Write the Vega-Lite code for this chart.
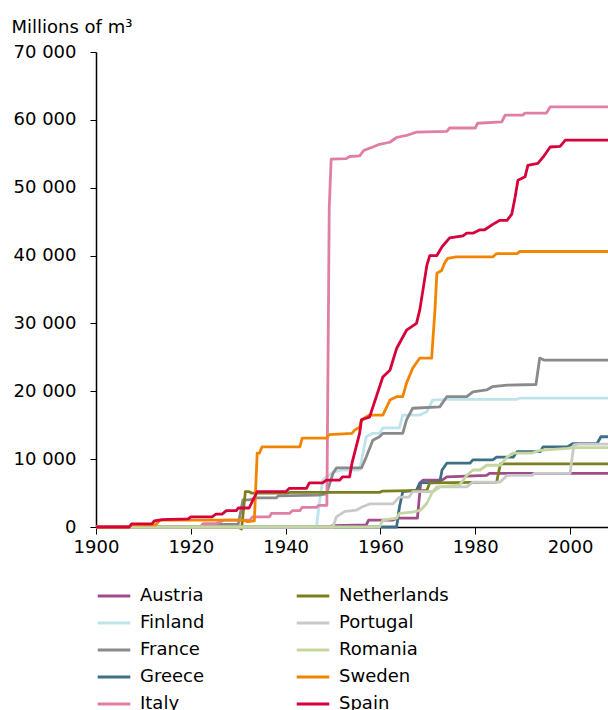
{
  "$schema": "https://vega.github.io/schema/vega-lite/v6.json",
  "autosize": "none",
  "padding": {"left": 96, "top": 52, "right": 0, "bottom": 183},
  "width": 512,
  "height": 475,
  "config": {
    "view": {"stroke": null},
    "font": "DejaVu Sans",
    "axis": {"labelFont": "DejaVu Sans", "titleFont": "DejaVu Sans", "labelFontSize": 18, "labelColor": "#000", "domainColor": "#000", "tickColor": "#000", "grid": false, "titleFontWeight": "normal", "labelFlush": false},
    "legend": {"labelFont": "DejaVu Sans", "labelFontSize": 18, "labelColor": "#000"}
  },
  "data": {"values": [
    {"country":"Austria","year":1900,"value":0},{"country":"Austria","year":1949,"value":0},{"country":"Austria","year":1950,"value":200},{"country":"Austria","year":1957,"value":300},{"country":"Austria","year":1957.5,"value":1000},{"country":"Austria","year":1962.6,"value":1000},{"country":"Austria","year":1963.4,"value":1300},{"country":"Austria","year":1967.8,"value":1300},{"country":"Austria","year":1968.5,"value":6600},{"country":"Austria","year":1969,"value":6900},{"country":"Austria","year":1973,"value":6900},{"country":"Austria","year":1974,"value":7400},{"country":"Austria","year":1982.4,"value":7600},{"country":"Austria","year":1983,"value":7900},{"country":"Austria","year":2008,"value":7900},

    {"country":"Finland","year":1900,"value":0},{"country":"Finland","year":1946.5,"value":0},{"country":"Finland","year":1947,"value":2900},{"country":"Finland","year":1947.8,"value":6900},{"country":"Finland","year":1950,"value":8100},{"country":"Finland","year":1952,"value":8400},{"country":"Finland","year":1955.6,"value":8400},{"country":"Finland","year":1957,"value":13300},{"country":"Finland","year":1958.4,"value":13800},{"country":"Finland","year":1959.8,"value":13800},{"country":"Finland","year":1960.5,"value":14600},{"country":"Finland","year":1964,"value":14600},{"country":"Finland","year":1964.7,"value":16500},{"country":"Finland","year":1968.3,"value":16500},{"country":"Finland","year":1969.8,"value":17000},{"country":"Finland","year":1971,"value":18700},{"country":"Finland","year":1974,"value":18800},{"country":"Finland","year":1988.8,"value":18800},{"country":"Finland","year":1989.4,"value":19000},{"country":"Finland","year":2008,"value":19000},

    {"country":"France","year":1900,"value":0},{"country":"France","year":1924,"value":0},{"country":"France","year":1924.5,"value":400},{"country":"France","year":1930,"value":400},{"country":"France","year":1931,"value":4000},{"country":"France","year":1932.3,"value":4000},{"country":"France","year":1934,"value":4300},{"country":"France","year":1938,"value":4300},{"country":"France","year":1938.5,"value":4600},{"country":"France","year":1947,"value":4700},{"country":"France","year":1948.6,"value":4900},{"country":"France","year":1950,"value":7900},{"country":"France","year":1950.7,"value":8700},{"country":"France","year":1956,"value":8700},{"country":"France","year":1957,"value":10300},{"country":"France","year":1958.4,"value":12800},{"country":"France","year":1959.8,"value":13300},{"country":"France","year":1960.5,"value":13800},{"country":"France","year":1964.7,"value":13800},{"country":"France","year":1965.5,"value":15800},{"country":"France","year":1966.8,"value":17500},{"country":"France","year":1972.5,"value":17700},{"country":"France","year":1974,"value":19200},{"country":"France","year":1978.2,"value":19200},{"country":"France","year":1979.5,"value":19900},{"country":"France","year":1982.4,"value":20200},{"country":"France","year":1983.7,"value":20700},{"country":"France","year":1986.7,"value":20900},{"country":"France","year":1992.8,"value":21000},{"country":"France","year":1993.6,"value":24900},{"country":"France","year":1994.5,"value":24600},{"country":"France","year":2008,"value":24600},

    {"country":"Greece","year":1900,"value":0},{"country":"Greece","year":1963.4,"value":0},{"country":"Greece","year":1964,"value":2900},{"country":"Greece","year":1964.7,"value":5200},{"country":"Greece","year":1967.6,"value":5400},{"country":"Greece","year":1968.3,"value":6500},{"country":"Greece","year":1972.5,"value":6600},{"country":"Greece","year":1973,"value":8400},{"country":"Greece","year":1974,"value":9400},{"country":"Greece","year":1978.9,"value":9400},{"country":"Greece","year":1979.5,"value":9900},{"country":"Greece","year":1983.7,"value":9900},{"country":"Greece","year":1984.5,"value":10300},{"country":"Greece","year":1988,"value":10300},{"country":"Greece","year":1988.8,"value":11100},{"country":"Greece","year":1993.7,"value":11100},{"country":"Greece","year":1994.3,"value":11800},{"country":"Greece","year":1999.4,"value":11800},{"country":"Greece","year":2000.6,"value":12300},{"country":"Greece","year":2005.7,"value":12300},{"country":"Greece","year":2006.5,"value":13300},{"country":"Greece","year":2008,"value":13300},

    {"country":"Italy","year":1900,"value":0},{"country":"Italy","year":1922,"value":0},{"country":"Italy","year":1922.6,"value":500},{"country":"Italy","year":1925.3,"value":500},{"country":"Italy","year":1927,"value":1000},{"country":"Italy","year":1932.5,"value":1000},{"country":"Italy","year":1933,"value":1500},{"country":"Italy","year":1936.6,"value":1500},{"country":"Italy","year":1937,"value":2000},{"country":"Italy","year":1940.8,"value":2000},{"country":"Italy","year":1941.4,"value":2400},{"country":"Italy","year":1943,"value":2400},{"country":"Italy","year":1943.5,"value":2900},{"country":"Italy","year":1946.5,"value":2900},{"country":"Italy","year":1947,"value":3200},{"country":"Italy","year":1948.7,"value":3200},{"country":"Italy","year":1949.2,"value":47000},{"country":"Italy","year":1949.6,"value":54200},{"country":"Italy","year":1952.8,"value":54300},{"country":"Italy","year":1953.5,"value":54600},{"country":"Italy","year":1955.6,"value":54700},{"country":"Italy","year":1956.5,"value":55500},{"country":"Italy","year":1958.4,"value":56000},{"country":"Italy","year":1959.8,"value":56400},{"country":"Italy","year":1962,"value":56700},{"country":"Italy","year":1963.4,"value":57400},{"country":"Italy","year":1965.5,"value":57700},{"country":"Italy","year":1967.6,"value":58200},{"country":"Italy","year":1974,"value":58300},{"country":"Italy","year":1974.6,"value":58800},{"country":"Italy","year":1980,"value":58800},{"country":"Italy","year":1980.5,"value":59500},{"country":"Italy","year":1985.6,"value":59700},{"country":"Italy","year":1986.3,"value":60700},{"country":"Italy","year":1990,"value":60700},{"country":"Italy","year":1990.5,"value":61000},{"country":"Italy","year":1995,"value":61000},{"country":"Italy","year":1995.8,"value":61900},{"country":"Italy","year":2008,"value":61900},

    {"country":"Netherlands","year":1900,"value":0},{"country":"Netherlands","year":1930,"value":0},{"country":"Netherlands","year":1930.7,"value":-300},{"country":"Netherlands","year":1931.5,"value":5200},{"country":"Netherlands","year":1932.3,"value":5200},{"country":"Netherlands","year":1932.8,"value":5000},{"country":"Netherlands","year":1940,"value":5000},{"country":"Netherlands","year":1941,"value":5100},{"country":"Netherlands","year":1959.8,"value":5100},{"country":"Netherlands","year":1960.5,"value":5300},{"country":"Netherlands","year":1969.8,"value":5400},{"country":"Netherlands","year":1970.4,"value":6500},{"country":"Netherlands","year":1984.5,"value":6600},{"country":"Netherlands","year":1985.3,"value":9300},{"country":"Netherlands","year":2008,"value":9300},

    {"country":"Portugal","year":1900,"value":0},{"country":"Portugal","year":1950,"value":0},{"country":"Portugal","year":1950.7,"value":1500},{"country":"Portugal","year":1952.5,"value":2300},{"country":"Portugal","year":1955,"value":2500},{"country":"Portugal","year":1956,"value":2900},{"country":"Portugal","year":1957.7,"value":3400},{"country":"Portugal","year":1962.6,"value":3400},{"country":"Portugal","year":1964,"value":4400},{"country":"Portugal","year":1966,"value":4400},{"country":"Portugal","year":1966.8,"value":5200},{"country":"Portugal","year":1971,"value":5200},{"country":"Portugal","year":1971.9,"value":5900},{"country":"Portugal","year":1978.2,"value":5900},{"country":"Portugal","year":1979.5,"value":6600},{"country":"Portugal","year":1985.2,"value":6600},{"country":"Portugal","year":1986.7,"value":7600},{"country":"Portugal","year":1992,"value":7600},{"country":"Portugal","year":1992.5,"value":7900},{"country":"Portugal","year":2000,"value":7900},{"country":"Portugal","year":2000.8,"value":12100},{"country":"Portugal","year":2002,"value":12200},{"country":"Portugal","year":2008,"value":12200},

    {"country":"Romania","year":1900,"value":0},{"country":"Romania","year":1959.8,"value":0},{"country":"Romania","year":1960.5,"value":1000},{"country":"Romania","year":1963.4,"value":1300},{"country":"Romania","year":1964,"value":2000},{"country":"Romania","year":1966.8,"value":2200},{"country":"Romania","year":1968.5,"value":2500},{"country":"Romania","year":1969.8,"value":3500},{"country":"Romania","year":1971,"value":5200},{"country":"Romania","year":1972.5,"value":5900},{"country":"Romania","year":1976.7,"value":6200},{"country":"Romania","year":1978.2,"value":7600},{"country":"Romania","year":1979.5,"value":8400},{"country":"Romania","year":1981,"value":8400},{"country":"Romania","year":1982.4,"value":9100},{"country":"Romania","year":1985.2,"value":9100},{"country":"Romania","year":1986.7,"value":10300},{"country":"Romania","year":1988,"value":10900},{"country":"Romania","year":1992,"value":10900},{"country":"Romania","year":1993.7,"value":11300},{"country":"Romania","year":1999.4,"value":11600},{"country":"Romania","year":2000.6,"value":11700},{"country":"Romania","year":2008,"value":11700},

    {"country":"Sweden","year":1900,"value":0},{"country":"Sweden","year":1907,"value":0},{"country":"Sweden","year":1907.5,"value":300},{"country":"Sweden","year":1912.5,"value":300},{"country":"Sweden","year":1913.5,"value":1000},{"country":"Sweden","year":1931,"value":1000},{"country":"Sweden","year":1932,"value":800},{"country":"Sweden","year":1933.4,"value":900},{"country":"Sweden","year":1934,"value":10900},{"country":"Sweden","year":1934.5,"value":10900},{"country":"Sweden","year":1935,"value":11800},{"country":"Sweden","year":1943,"value":11800},{"country":"Sweden","year":1943.5,"value":13100},{"country":"Sweden","year":1948.6,"value":13100},{"country":"Sweden","year":1949.2,"value":13600},{"country":"Sweden","year":1954,"value":13800},{"country":"Sweden","year":1954.6,"value":14300},{"country":"Sweden","year":1955.6,"value":14700},{"country":"Sweden","year":1956,"value":15800},{"country":"Sweden","year":1957.7,"value":16500},{"country":"Sweden","year":1960.5,"value":16500},{"country":"Sweden","year":1962,"value":18700},{"country":"Sweden","year":1963.4,"value":19200},{"country":"Sweden","year":1964.7,"value":19200},{"country":"Sweden","year":1965.5,"value":21200},{"country":"Sweden","year":1966.8,"value":23400},{"country":"Sweden","year":1968.3,"value":24900},{"country":"Sweden","year":1970.8,"value":24900},{"country":"Sweden","year":1971.5,"value":32000},{"country":"Sweden","year":1971.9,"value":37400},{"country":"Sweden","year":1972.9,"value":37800},{"country":"Sweden","year":1973.6,"value":39000},{"country":"Sweden","year":1974.2,"value":39600},{"country":"Sweden","year":1976,"value":39800},{"country":"Sweden","year":1983.7,"value":39800},{"country":"Sweden","year":1984.5,"value":40300},{"country":"Sweden","year":1988.8,"value":40300},{"country":"Sweden","year":1989.4,"value":40600},{"country":"Sweden","year":2008,"value":40600},

    {"country":"Spain","year":1900,"value":0},{"country":"Spain","year":1907,"value":0},{"country":"Spain","year":1907.5,"value":450},{"country":"Spain","year":1911.8,"value":450},{"country":"Spain","year":1912.3,"value":900},{"country":"Spain","year":1914,"value":1100},{"country":"Spain","year":1919.5,"value":1200},{"country":"Spain","year":1920,"value":1500},{"country":"Spain","year":1924.5,"value":1500},{"country":"Spain","year":1925.3,"value":1900},{"country":"Spain","year":1926.6,"value":1900},{"country":"Spain","year":1927.5,"value":2400},{"country":"Spain","year":1929.6,"value":2400},{"country":"Spain","year":1930,"value":2800},{"country":"Spain","year":1932.3,"value":2800},{"country":"Spain","year":1933,"value":3800},{"country":"Spain","year":1934,"value":5200},{"country":"Spain","year":1940,"value":5200},{"country":"Spain","year":1940.8,"value":5700},{"country":"Spain","year":1944.4,"value":5700},{"country":"Spain","year":1945,"value":6500},{"country":"Spain","year":1947.8,"value":6500},{"country":"Spain","year":1948.6,"value":6900},{"country":"Spain","year":1951.4,"value":6900},{"country":"Spain","year":1952,"value":7400},{"country":"Spain","year":1953.5,"value":7400},{"country":"Spain","year":1954,"value":9400},{"country":"Spain","year":1955.6,"value":13800},{"country":"Spain","year":1956,"value":15800},{"country":"Spain","year":1957.7,"value":16200},{"country":"Spain","year":1960.5,"value":22100},{"country":"Spain","year":1962,"value":23100},{"country":"Spain","year":1963.4,"value":26300},{"country":"Spain","year":1965.5,"value":29000},{"country":"Spain","year":1967.6,"value":30000},{"country":"Spain","year":1968.3,"value":32000},{"country":"Spain","year":1969.8,"value":38600},{"country":"Spain","year":1970.4,"value":40000},{"country":"Spain","year":1971.9,"value":40000},{"country":"Spain","year":1973,"value":41300},{"country":"Spain","year":1974.6,"value":42600},{"country":"Spain","year":1977.4,"value":42900},{"country":"Spain","year":1978.2,"value":43300},{"country":"Spain","year":1979.5,"value":43300},{"country":"Spain","year":1981,"value":43800},{"country":"Spain","year":1982,"value":43800},{"country":"Spain","year":1983.7,"value":44600},{"country":"Spain","year":1985.2,"value":45200},{"country":"Spain","year":1986.7,"value":45200},{"country":"Spain","year":1987.7,"value":46100},{"country":"Spain","year":1988.4,"value":48600},{"country":"Spain","year":1989,"value":51100},{"country":"Spain","year":1990.5,"value":51600},{"country":"Spain","year":1991.1,"value":53300},{"country":"Spain","year":1993.2,"value":53600},{"country":"Spain","year":1994.3,"value":54500},{"country":"Spain","year":1995.8,"value":56000},{"country":"Spain","year":1997.9,"value":56100},{"country":"Spain","year":1999,"value":57000},{"country":"Spain","year":2008,"value":57000}
  ]},
  "mark": {"type": "line", "strokeWidth": 2.8, "strokeJoin": "round", "clip": false},
  "encoding": {
    "x": {"field": "year", "type": "quantitative",
      "scale": {"domain": [1900, 2008], "nice": false, "zero": false},
      "axis": {"values": [1900, 1920, 1940, 1960, 1980, 2000], "format": "d", "title": null, "tickSize": 7, "labelPadding": 4, "domainWidth": 1.5}},
    "y": {"field": "value", "type": "quantitative",
      "scale": {"domain": [0, 70000], "nice": false},
      "axis": {"values": [0, 10000, 20000, 30000, 40000, 50000, 60000, 70000], "labelExpr": "replace(format(datum.value, ','), ',', ' ')", "tickSize": 6, "labelPadding": 14, "domainWidth": 1.5,
        "title": "Millions of m³", "titleAngle": 0, "titleAlign": "left", "titleBaseline": "alphabetic", "titleX": -85, "titleY": -20, "titleFontSize": 18, "titleColor": "#000"}},
    "color": {"field": "country", "type": "nominal",
      "scale": {"domain": ["Austria", "Finland", "France", "Greece", "Italy", "Netherlands", "Portugal", "Romania", "Sweden", "Spain"],
        "range": ["#a04b8c", "#bfe3ea", "#8a8a8a", "#3e6f85", "#df7fa3", "#7b7f1d", "#c9c9c9", "#c5d6a0", "#f28500", "#d6003a"]},
      "legend": {"title": null, "orient": "none", "legendX": 0, "legendY": 526, "columns": 2, "columnPadding": 85, "rowPadding": -6.6, "symbolType": "stroke", "symbolSize": 1060, "symbolStrokeWidth": 3, "labelOffset": 8, "padding": 0}}
  }
}
